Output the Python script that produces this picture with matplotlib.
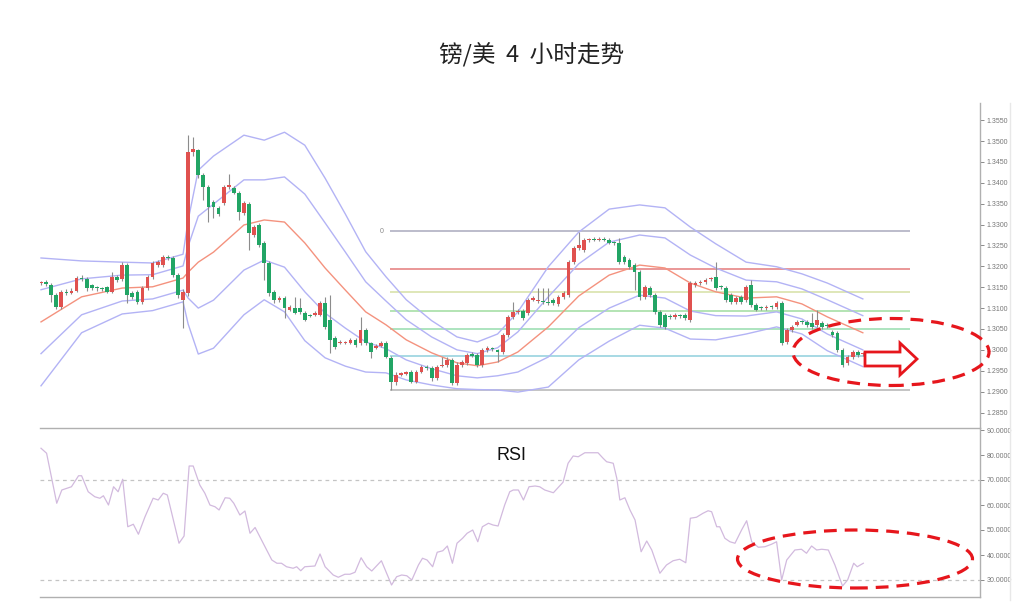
import matplotlib
matplotlib.use('Agg')
import matplotlib.pyplot as plt
from matplotlib.patches import Ellipse, Polygon
from matplotlib.lines import Line2D
import numpy as np

plt.rcParams['font.family'] = ['Liberation Sans', 'Noto Sans CJK SC', 'DejaVu Sans']

# 4h candles, GBP/USD (red = up, green = down)
opens = [1.3160, 1.3163, 1.3156, 1.3132, 1.3103, 1.3139, 1.3137, 1.3142, 1.3172, 1.3170,
         1.3155, 1.3148, 1.3147, 1.3150, 1.3139, 1.3175, 1.3170, 1.3203, 1.3136, 1.3139,
         1.3115, 1.3148, 1.3175, 1.3203, 1.3203, 1.3222, 1.3220, 1.3180, 1.3120, 1.3136,
         1.3473, 1.3478, 1.3419, 1.3390, 1.3354, 1.3340, 1.3352, 1.3390, 1.3388, 1.3376,
         1.3328, 1.3350, 1.3275, 1.3299, 1.3256, 1.3208, 1.3139, 1.3120, 1.3124, 1.3096,
         1.3101, 1.3101, 1.3089, 1.3084, 1.3084, 1.3084, 1.3113, 1.3072, 1.3029, 1.3017,
         1.3017, 1.3017, 1.3024, 1.3017, 1.3048, 1.3017, 1.3005, 1.3010, 1.3017, 1.2981,
         1.2924, 1.2941, 1.2943, 1.2948, 1.2924, 1.2948, 1.2960, 1.2957, 1.2933, 1.2962,
         1.2965, 1.2976, 1.2921, 1.2964, 1.2969, 1.2990, 1.2988, 1.2964, 1.3000, 1.3003,
         1.3000, 1.2995, 1.3036, 1.3079, 1.3091, 1.3093, 1.3089, 1.3120, 1.3117, 1.3117,
         1.3115, 1.3120, 1.3110, 1.3127, 1.3132, 1.3211, 1.3244, 1.3239, 1.3263, 1.3265,
         1.3264, 1.3266, 1.3264, 1.3257, 1.3256, 1.3222, 1.3215, 1.3203, 1.3187, 1.3127,
         1.3148, 1.3132, 1.3091, 1.3084, 1.3081, 1.3079, 1.3082, 1.3084, 1.3072, 1.3156,
         1.3160, 1.3163, 1.3170, 1.3175, 1.3151, 1.3148, 1.3132, 1.3115, 1.3127, 1.3120,
         1.3156, 1.3108, 1.3101, 1.3100, 1.3103, 1.3103, 1.3112, 1.3019, 1.3048, 1.3060,
         1.3067, 1.3067, 1.3065, 1.3060, 1.3065, 1.3060, 1.3043, 1.3041, 1.3000, 1.2969,
         1.2983, 1.2995, 1.2990]
highs = [1.3166, 1.3168, 1.3160, 1.3136, 1.3143, 1.3145, 1.3147, 1.3178, 1.3180, 1.3175,
         1.3158, 1.3152, 1.3151, 1.3153, 1.3187, 1.3180, 1.3211, 1.3208, 1.3140, 1.3143,
         1.3152, 1.3180, 1.3213, 1.3215, 1.3228, 1.3226, 1.3225, 1.3185, 1.3145, 1.3514,
         1.3509, 1.3482, 1.3423, 1.3395, 1.3358, 1.3345, 1.3395, 1.3421, 1.3392, 1.3380,
         1.3357, 1.3355, 1.3299, 1.3303, 1.3260, 1.3212, 1.3143, 1.3130, 1.3128, 1.3108,
         1.3127, 1.3125, 1.3093, 1.3087, 1.3093, 1.3118, 1.3127, 1.3132, 1.3033, 1.3024,
         1.3021, 1.3028, 1.3028, 1.3079, 1.3052, 1.3020, 1.3014, 1.3021, 1.3021, 1.2985,
         1.2946, 1.2947, 1.2950, 1.2952, 1.2952, 1.2964, 1.2964, 1.2961, 1.2964, 1.2984,
         1.2984, 1.2980, 1.2970, 1.2976, 1.2993, 1.2994, 1.2992, 1.3005, 1.3010, 1.3007,
         1.3003, 1.3040, 1.3083, 1.3115, 1.3098, 1.3097, 1.3124, 1.3129, 1.3148, 1.3148,
         1.3148, 1.3124, 1.3131, 1.3141, 1.3216, 1.3249, 1.3282, 1.3268, 1.3269, 1.3270,
         1.3270, 1.3270, 1.3268, 1.3261, 1.3268, 1.3226, 1.3219, 1.3207, 1.3191, 1.3156,
         1.3153, 1.3136, 1.3095, 1.3089, 1.3086, 1.3089, 1.3086, 1.3089, 1.3165, 1.3165,
         1.3168, 1.3173, 1.3175, 1.3211, 1.3156, 1.3153, 1.3136, 1.3129, 1.3131, 1.3156,
         1.3168, 1.3112, 1.3105, 1.3107, 1.3107, 1.3117, 1.3117, 1.3053, 1.3060, 1.3072,
         1.3071, 1.3072, 1.3089, 1.3096, 1.3070, 1.3064, 1.3048, 1.3045, 1.3004, 1.2988,
         1.3000, 1.3000, 1.2996]
lows = [1.3155, 1.3152, 1.3115, 1.3098, 1.3098, 1.3132, 1.3133, 1.3138, 1.3165, 1.3140,
        1.3143, 1.3142, 1.3141, 1.3135, 1.3135, 1.3163, 1.3165, 1.3113, 1.3122, 1.3110,
        1.3110, 1.3143, 1.3170, 1.3198, 1.3198, 1.3215, 1.3175, 1.3125, 1.3053, 1.3130,
        1.3465, 1.3412, 1.3359, 1.3306, 1.3316, 1.3320, 1.3347, 1.3386, 1.3372, 1.3311,
        1.3323, 1.3239, 1.3270, 1.3246, 1.3168, 1.3130, 1.3113, 1.3115, 1.3077, 1.3092,
        1.3085, 1.3087, 1.3068, 1.3079, 1.3080, 1.3080, 1.3050, 1.2993, 1.3003, 1.3013,
        1.3013, 1.3013, 1.3008, 1.3012, 1.3012, 1.2981, 1.3001, 1.3006, 1.2980, 1.2905,
        1.2915, 1.2937, 1.2939, 1.2920, 1.2920, 1.2944, 1.2953, 1.2926, 1.2929, 1.2958,
        1.2960, 1.2917, 1.2915, 1.2960, 1.2965, 1.2982, 1.2960, 1.2960, 1.2996, 1.2997,
        1.2971, 1.2990, 1.3031, 1.3075, 1.3087, 1.3072, 1.3084, 1.3116, 1.3112, 1.3110,
        1.3108, 1.3108, 1.3106, 1.3122, 1.3127, 1.3206, 1.3240, 1.3234, 1.3259, 1.3260,
        1.3260, 1.3260, 1.3253, 1.3252, 1.3206, 1.3206, 1.3194, 1.3144, 1.3120, 1.3122,
        1.3127, 1.3086, 1.3055, 1.3050, 1.3075, 1.3075, 1.3077, 1.3072, 1.3067, 1.3150,
        1.3155, 1.3158, 1.3165, 1.3143, 1.3146, 1.3115, 1.3110, 1.3110, 1.3110, 1.3115,
        1.3103, 1.3092, 1.3096, 1.3096, 1.3098, 1.3098, 1.3012, 1.3015, 1.3044, 1.3056,
        1.3062, 1.3055, 1.3050, 1.3055, 1.3050, 1.3053, 1.3031, 1.2995, 1.2960, 1.2964,
        1.2978, 1.2983, 1.2986]
closes = [1.3163, 1.3158, 1.3132, 1.3103, 1.3139, 1.3137, 1.3142, 1.3172, 1.3170, 1.3148,
          1.3148, 1.3147, 1.3146, 1.3139, 1.3175, 1.3168, 1.3203, 1.3132, 1.3127, 1.3115,
          1.3148, 1.3175, 1.3208, 1.3210, 1.3223, 1.3219, 1.3180, 1.3132, 1.3139, 1.3473,
          1.3480, 1.3419, 1.3390, 1.3342, 1.3342, 1.3325, 1.3390, 1.3395, 1.3376, 1.3330,
          1.3352, 1.3280, 1.3294, 1.3251, 1.3208, 1.3137, 1.3120, 1.3124, 1.3101, 1.3103,
          1.3089, 1.3091, 1.3072, 1.3082, 1.3089, 1.3113, 1.3055, 1.3024, 1.3007, 1.3020,
          1.3017, 1.3024, 1.3012, 1.3048, 1.3017, 1.2995, 1.3010, 1.3017, 1.2984, 1.2924,
          1.2941, 1.2943, 1.2946, 1.2924, 1.2948, 1.2960, 1.2957, 1.2933, 1.2960, 1.2965,
          1.2976, 1.2921, 1.2964, 1.2971, 1.2988, 1.2986, 1.2964, 1.3000, 1.3005, 1.3001,
          1.2995, 1.3036, 1.3079, 1.3091, 1.3093, 1.3077, 1.3120, 1.3124, 1.3119, 1.3115,
          1.3113, 1.3113, 1.3127, 1.3136, 1.3211, 1.3244, 1.3251, 1.3263, 1.3265, 1.3264,
          1.3266, 1.3264, 1.3257, 1.3256, 1.3211, 1.3211, 1.3199, 1.3187, 1.3127, 1.3151,
          1.3132, 1.3091, 1.3060, 1.3055, 1.3079, 1.3084, 1.3081, 1.3077, 1.3160, 1.3160,
          1.3163, 1.3168, 1.3171, 1.3148, 1.3150, 1.3120, 1.3115, 1.3124, 1.3115, 1.3151,
          1.3108, 1.3096, 1.3100, 1.3103, 1.3102, 1.3112, 1.3017, 1.3048, 1.3055, 1.3067,
          1.3066, 1.3060, 1.3055, 1.3072, 1.3055, 1.3058, 1.3036, 1.3000, 1.2964, 1.2983,
          1.2995, 1.2988, 1.2991]

# Bollinger bands read at sparse candle positions
band_x = [0, 8, 16, 22, 28, 29, 31, 34, 40, 44, 48, 52, 56, 60, 64, 68, 72, 77, 82, 86,
          90, 94, 100, 106, 112, 118, 123, 128, 133, 139, 145, 150, 155, 162]
band_mid = [1.3067, 1.3127, 1.3148, 1.3151, 1.3172, 1.3186, 1.3210, 1.3234, 1.3299, 1.3311,
            1.3306, 1.3256, 1.3196, 1.3143, 1.3091, 1.3060, 1.3024, 1.2993, 1.2969, 1.2962,
            1.2971, 1.2995, 1.3055, 1.3129, 1.3179, 1.3203, 1.3196, 1.3160, 1.3139, 1.3124,
            1.3127, 1.3110, 1.3079, 1.3041]
band_up2 = [1.3220, 1.3213, 1.3210, 1.3208, 1.3229, 1.3310, 1.3430, 1.3464, 1.3514, 1.3502,
            1.3521, 1.3490, 1.3411, 1.3325, 1.3235, 1.3175, 1.3120, 1.3070, 1.3031, 1.3019,
            1.3038, 1.3091, 1.3199, 1.3282, 1.3337, 1.3347, 1.3340, 1.3294, 1.3254, 1.3210,
            1.3199, 1.3182, 1.3160, 1.3122]
band_up1 = [1.3144, 1.3170, 1.3179, 1.3180, 1.3201, 1.3248, 1.3320, 1.3349, 1.3407, 1.3407,
            1.3414, 1.3373, 1.3304, 1.3234, 1.3163, 1.3117, 1.3072, 1.3031, 1.3000, 1.2991,
            1.3005, 1.3043, 1.3127, 1.3206, 1.3258, 1.3275, 1.3268, 1.3227, 1.3196, 1.3167,
            1.3163, 1.3146, 1.3120, 1.3082]
band_lo1 = [1.2991, 1.3084, 1.3117, 1.3122, 1.3143, 1.3124, 1.3100, 1.3119, 1.3191, 1.3215,
            1.3198, 1.3139, 1.3088, 1.3052, 1.3019, 1.3003, 1.2976, 1.2955, 1.2938, 1.2933,
            1.2938, 1.2947, 1.2983, 1.3053, 1.3100, 1.3131, 1.3124, 1.3093, 1.3082, 1.3081,
            1.3091, 1.3074, 1.3038, 1.3000]
band_lo2 = [1.2914, 1.3041, 1.3086, 1.3094, 1.3115, 1.3062, 1.2990, 1.3004, 1.3084, 1.3120,
            1.3091, 1.3022, 1.2981, 1.2961, 1.2947, 1.2945, 1.2928, 1.2916, 1.2907, 1.2905,
            1.2904, 1.2899, 1.2911, 1.2976, 1.3021, 1.3059, 1.3052, 1.3026, 1.3024, 1.3038,
            1.3055, 1.3038, 1.2998, 1.2960]

# Fibonacci retracement levels (0 at top)
fib_levels = [1.3284, 1.3194, 1.3139, 1.3094, 1.3049, 1.2985, 1.2904]
fib_colors = ['#a9a9bd', '#e47a7a', '#d6e0a4', '#9fdc9f', '#96dcae', '#8fcfdc', '#b4b4b4']

# RSI read at candle positions
rsi_x = [0, 1.1, 3.1, 4.1, 5.1, 6.0, 7.4, 8.0, 9.3, 10.6,
         11.6, 12.3, 13.3, 14.3, 15.2, 16.1, 17.1, 18.2, 19.2, 20.5,
         22.1, 23.1, 24.1, 24.9, 27.2, 28.2, 29.2, 30.0, 31.3, 32.3,
         33.3, 34.3, 35.1, 36.3, 37.2, 38.0, 39.2, 40.2, 41.2, 42.2,
         43.8, 45.5, 46.5, 47.4, 48.4, 49.7, 50.4, 51.2, 52.0, 54.0,
         55.0, 56.0, 57.6, 58.6, 59.9, 60.9, 61.9, 63.1, 64.2, 65.2,
         67.1, 69.1, 70.1, 71.1, 72.1, 73.1, 74.4, 75.2, 76.1, 77.2,
         78.1, 79.2, 80.1, 81.1, 82.0, 83.1, 84.0, 85.1, 86.1, 87.0,
         88.2, 89.1, 90.1, 91.4, 92.4, 93.1, 94.1, 95.1, 96.2, 97.4,
         98.3, 99.3, 101.0, 102.9, 103.9, 104.9, 105.9, 107.2, 109.8, 110.8,
         111.5, 112.8, 113.5, 114.1, 115.1, 116.1, 117.1, 118.3, 119.4, 120.4,
         122.0, 123.3, 124.6, 125.9, 127.1, 128.0, 129.2, 130.5, 131.5, 132.2,
         133.2, 133.8, 134.8, 135.8, 136.8, 138.1, 139.1, 140.1, 141.4, 142.7,
         144.0, 145.0, 146.0, 147.0, 148.6, 149.9, 150.9, 151.9, 152.9, 153.9,
         155.2, 156.5, 158.0, 159.0, 160.2, 160.9, 162.1]
rsi_v = [82.7, 80.7, 60.7, 66.0, 66.7, 67.3, 71.7, 71.7, 65.3, 63.3,
         62.7, 63.7, 60.0, 67.3, 65.3, 70.3, 51.3, 52.3, 48.3, 55.3,
         62.7, 62.0, 64.7, 64.0, 44.7, 47.6, 75.6, 75.6, 68.0, 64.7,
         60.0, 59.3, 58.0, 62.9, 62.7, 60.7, 56.0, 57.6, 48.7, 51.0,
         44.7, 38.0, 36.7, 36.7, 35.3, 34.7, 35.3, 33.7, 35.3, 35.6,
         40.4, 35.3, 32.0, 31.1, 32.3, 32.3, 33.1, 38.9, 35.3, 33.6,
         37.7, 28.0, 31.3, 32.0, 31.7, 30.0, 36.0, 38.7, 38.0, 35.3,
         41.1, 41.7, 43.6, 36.7, 44.7, 46.7, 48.7, 50.0, 45.3, 51.3,
         52.7, 52.0, 51.6, 60.0, 65.3, 66.0, 66.0, 62.0, 67.3, 67.6,
         67.3, 66.0, 64.9, 69.1, 76.7, 79.6, 79.3, 80.9, 80.9, 78.7,
         77.3, 76.7, 70.7, 62.0, 62.9, 58.0, 54.0, 41.3, 45.6, 42.0,
         32.7, 36.0, 37.7, 38.3, 36.9, 54.7, 55.1, 56.7, 57.7, 57.3,
         51.3, 51.3, 46.7, 45.3, 44.7, 50.0, 53.7, 45.3, 43.1, 43.3,
         44.3, 45.3, 30.0, 38.0, 42.0, 42.3, 40.7, 43.6, 42.0, 42.3,
         42.0, 36.0, 27.6, 30.0, 36.7, 35.3, 36.7]
rsi_lines = [70, 30]

price_ticks = np.arange(1.2850, 1.35501, 0.005)
rsi_ticks = [30, 40, 50, 60, 70, 80, 90]

W, H = 1024, 613
fig = plt.figure(figsize=(W / 100, H / 100), dpi=100)


def fx(px):
    return px / W


def fy(py):
    return 1 - py / H


ax = fig.add_axes([fx(40), fy(428), fx(980) - fx(40), fy(103) - fy(428)])
ax2 = fig.add_axes([fx(40), fy(597), fx(980) - fx(40), fy(428) - fy(597)], sharex=ax)

RED = '#e0514f'
GREEN = '#22a565'

o = np.array(opens)
c = np.array(closes)
idx = np.arange(len(c))
up = c >= o
ax.vlines(idx, lows, highs, color='#8c8c8c', lw=0.8, zorder=3)
ax.bar(idx, np.maximum(np.abs(c - o), 0.00025), bottom=np.minimum(o, c), width=0.74,
       color=np.where(up, RED, GREEN), linewidth=0, zorder=4)

band_col = '#b3b3f5'
for b in (band_up2, band_up1, band_lo1, band_lo2):
    ax.plot(band_x, b, color=band_col, lw=1.0, zorder=2)
ax.plot(band_x, band_mid, color='#f4927e', lw=1.0, zorder=2)

for lev, col in zip(fib_levels, fib_colors):
    ax.hlines(lev, 68.8, 171.3, color=col, lw=1.1, zorder=1)
ax.text(67.6, fib_levels[0], '0', ha='right', va='center', fontsize=5, color='#888888')

ax.set_xlim(-0.2, 185.1)
ax.set_ylim(1.2813, 1.3591)
ax.set_yticks(price_ticks)
ax.set_yticklabels(['%.4f' % t for t in price_ticks])

ax2.plot(rsi_x, rsi_v, color='#d2bade', lw=0.9)
for lv in rsi_lines:
    ax2.axhline(lv, color='#c4c4c4', lw=0.9, ls=(0, (3, 3)))
ax2.set_ylim(23.2, 90.8)
ax2.set_yticks(rsi_ticks)
ax2.set_yticklabels(['%.4f' % t for t in rsi_ticks])

for a in (ax, ax2):
    a.yaxis.tick_right()
    a.tick_params(axis='y', labelsize=5, colors='#777777', length=3, width=0.6, pad=2)
    a.tick_params(axis='x', bottom=False, labelbottom=False)
    for s in ('top', 'left'):
        a.spines[s].set_visible(False)
    for s in ('right', 'bottom'):
        a.spines[s].set_color('#b0b0b0')
        a.spines[s].set_linewidth(1.0)
    a.patch.set_alpha(0)

fig.add_artist(Line2D([fx(1010), fx(1010)], [fy(103), fy(600)], color='#e8e8e8', lw=1))

fig.text(fx(532), fy(55), '镑/美  4  小时走势', ha='center', va='center', fontsize=17,
         family=['Noto Sans CJK SC', 'DejaVu Sans'], color='#222222')
fig.text(fx(512), fy(456), 'RSI', ha='center', va='center', fontsize=13, color='#111111')

# highlight marks
ell_red = '#e6161c'
fig.add_artist(Ellipse((fx(891), fy(352)), 196 / W, 67 / H, transform=fig.transFigure,
                       fill=False, ec=ell_red, lw=2.3, ls=(0, (4, 2.5))))
fig.add_artist(Ellipse((fx(855), fy(559)), 235 / W, 58 / H, transform=fig.transFigure,
                       fill=False, ec=ell_red, lw=2.3, ls=(0, (4, 2.5))))
arrow_px = [(865, 352), (900, 352), (900, 343), (917, 359), (900, 375), (900, 366), (865, 366)]
fig.add_artist(Polygon([(fx(x), fy(y)) for x, y in arrow_px], closed=True,
                       transform=fig.transFigure, fc='white', ec=ell_red, lw=2.0))

fig.savefig('out.png', dpi=100)
